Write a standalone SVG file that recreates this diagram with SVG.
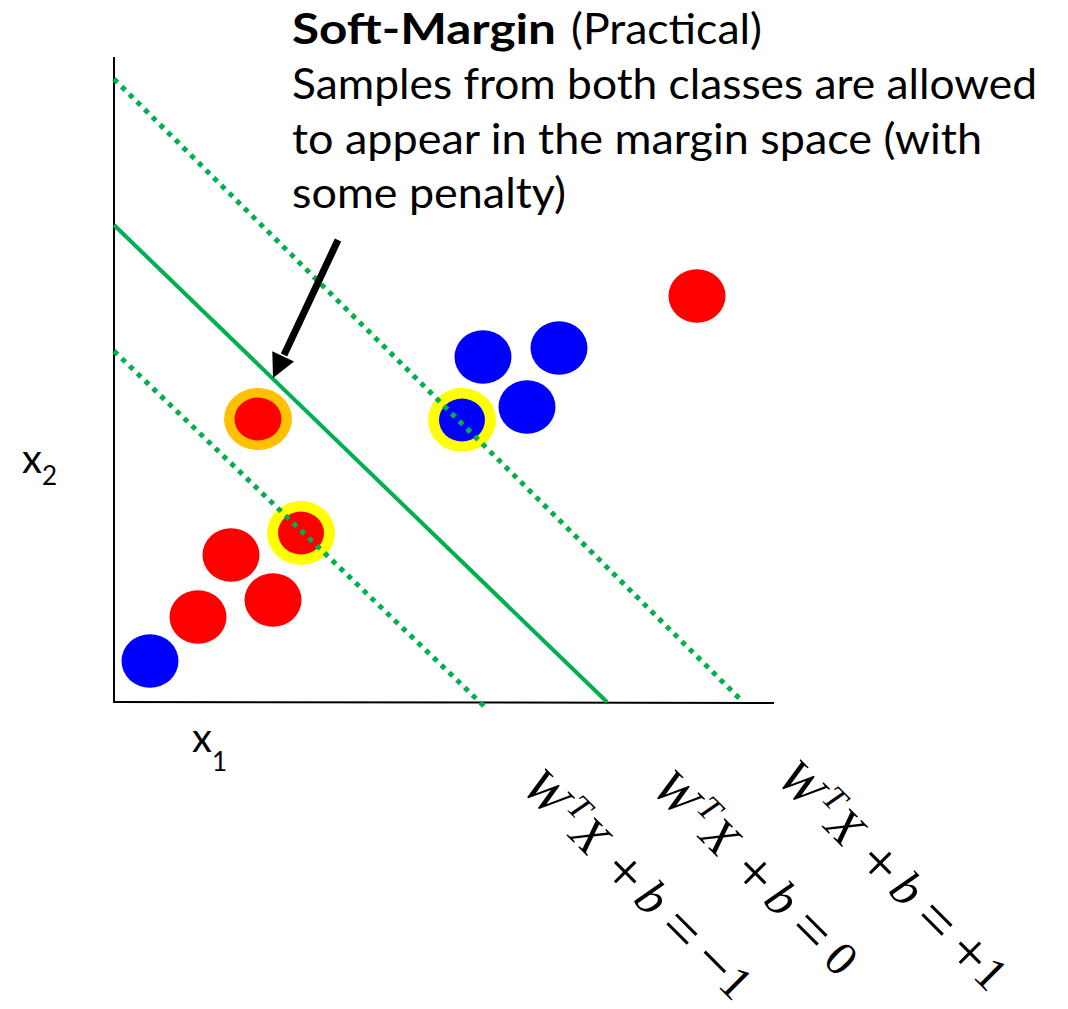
<svg xmlns="http://www.w3.org/2000/svg" width="1068" height="1009" viewBox="0 0 1068 1009">
<style>
.title{font-family:"Lato","Liberation Sans",sans-serif;font-size:42px;fill:#000}
.bold{font-weight:bold}
.axl{font-family:"Lato","Liberation Sans",sans-serif;fill:#000}
.math{font-family:"Liberation Serif","DejaVu Serif",serif;font-size:50px;fill:#000}
.it{font-style:italic}
.op{font-size:62px}
.num{font-size:48px}
.axis{stroke:#000;stroke-width:2;fill:none}
.solid{stroke:#00B050;stroke-width:4;fill:none}
.dotted{stroke:#00B050;stroke-width:5;stroke-dasharray:5 5.8;fill:none}
.red{fill:#FF0000}
.blue{fill:#0000FF}
.yel{fill:#FFFF00}
.org{fill:#FFC000}
</style>
<rect width="1068" height="1009" fill="#fff"/>
<g id="title">
<text class="title bold" x="292" y="44" textLength="264" lengthAdjust="spacingAndGlyphs">Soft-Margin</text>
<text class="title" x="571" y="44" textLength="191" lengthAdjust="spacingAndGlyphs">(Practical)</text>
<text class="title" x="292" y="99" textLength="745" lengthAdjust="spacingAndGlyphs">Samples from both classes are allowed</text>
<text class="title" x="292" y="154" textLength="690" lengthAdjust="spacingAndGlyphs">to appear in the margin space (with</text>
<text class="title" x="292" y="208" textLength="274" lengthAdjust="spacingAndGlyphs">some penalty)</text>
</g>
<g id="axes">
<line class="axis" x1="114" y1="57" x2="114" y2="703"/>
<line class="axis" x1="113" y1="702" x2="774" y2="703"/>
<text class="axl" x="22" y="473" font-size="40">x<tspan font-size="26" dy="12">2</tspan></text>
<text class="axl" x="192" y="752" font-size="40">x<tspan font-size="26" dy="19">1</tspan></text>
</g>
<g id="points">
<g id="p-red-1"><ellipse class="red" cx="697" cy="296" rx="28.5" ry="26.7"/></g>
<g id="p-blue-1"><ellipse class="blue" cx="483" cy="357" rx="28.5" ry="26.7"/></g>
<g id="p-blue-2"><ellipse class="blue" cx="559" cy="348" rx="28.5" ry="26.7"/></g>
<g id="p-blue-3"><ellipse class="blue" cx="527" cy="407" rx="28.5" ry="26.7"/></g>
<g id="p-blue-sv"><ellipse class="yel" cx="462" cy="420" rx="34" ry="32"/><ellipse class="blue" cx="462" cy="420" rx="23" ry="21.5"/></g>
<g id="p-red-margin"><ellipse class="org" cx="258" cy="419" rx="34" ry="31"/><ellipse class="red" cx="258" cy="419" rx="23.5" ry="21.5"/></g>
<g id="p-red-sv"><ellipse class="yel" cx="301" cy="533" rx="34" ry="32"/><ellipse class="red" cx="301" cy="533" rx="23" ry="21.5"/></g>
<g id="p-red-2"><ellipse class="red" cx="231" cy="555" rx="28.5" ry="26.7"/></g>
<g id="p-red-3"><ellipse class="red" cx="198" cy="617" rx="28.5" ry="26.7"/></g>
<g id="p-red-4"><ellipse class="red" cx="273" cy="600" rx="28.5" ry="26.7"/></g>
<g id="p-blue-4"><ellipse class="blue" cx="150" cy="661" rx="28.5" ry="26.7"/></g>
</g>
<g id="hyperplanes">
<line class="dotted" x1="114" y1="79" x2="743" y2="702"/>
<line class="solid" x1="114" y1="225" x2="607" y2="702"/>
<line class="dotted" x1="114" y1="351" x2="486" y2="708"/>
</g>
<g id="connectors">
<line x1="338" y1="240" x2="284" y2="355" stroke="#000" stroke-width="7"/>
<polygon points="273,378 294.1,361.4 272.3,351.2" fill="#000"/>
</g>
<g id="labels">
<text class="math" transform="translate(520,789) rotate(45)"><tspan class="it" x="0" y="0">W</tspan><tspan class="it" x="46" y="-18" font-size="34">T</tspan><tspan class="it" x="67" y="0">X</tspan><tspan class="op" x="115.5" y="5">+</tspan><tspan class="it" x="158" y="0">b</tspan><tspan class="op" x="196" y="5">=</tspan><tspan class="op" x="242.5" y="5">−</tspan><tspan class="num" x="278" y="0">1</tspan></text>
<text class="math" transform="translate(650,790) rotate(45)"><tspan class="it" x="0" y="0">W</tspan><tspan class="it" x="46" y="-18" font-size="34">T</tspan><tspan class="it" x="67" y="0">X</tspan><tspan class="op" x="115.5" y="5">+</tspan><tspan class="it" x="158" y="0">b</tspan><tspan class="op" x="196" y="5">=</tspan><tspan class="num" x="242.5" y="0">0</tspan></text>
<text class="math" transform="translate(775,780) rotate(45)"><tspan class="it" x="0" y="0">W</tspan><tspan class="it" x="46" y="-18" font-size="34">T</tspan><tspan class="it" x="67" y="0">X</tspan><tspan class="op" x="115.5" y="5">+</tspan><tspan class="it" x="158" y="0">b</tspan><tspan class="op" x="196" y="5">=</tspan><tspan class="op" x="242.5" y="5">+</tspan><tspan class="num" x="278" y="0">1</tspan></text>
</g>
</svg>
